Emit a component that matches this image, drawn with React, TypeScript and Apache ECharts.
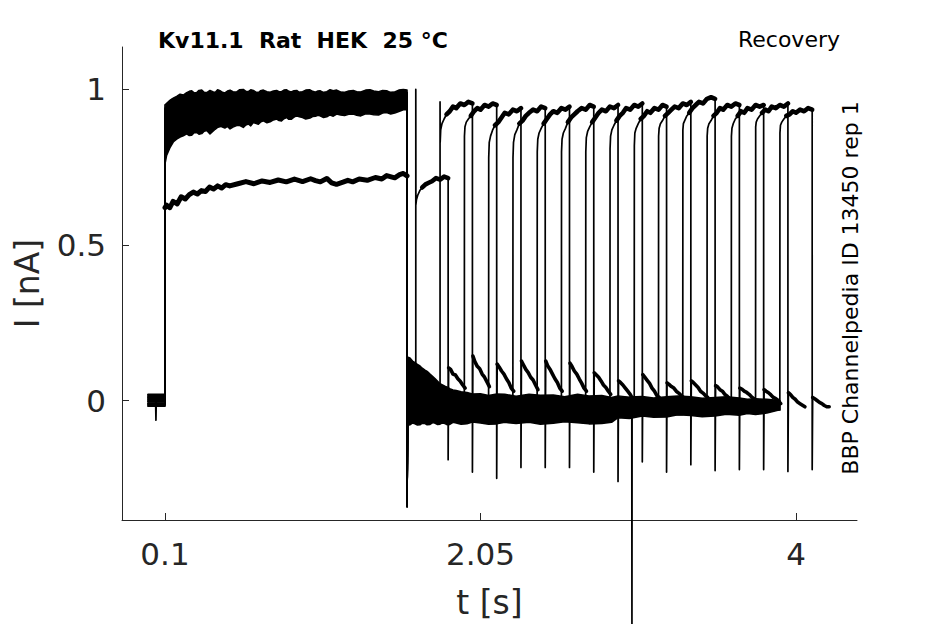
import { useEffect, useRef } from "react";
import * as echarts from "echarts";

// ---------- axes ----------
const X_TICKS = [0.1, 2.05, 4];
const Y_TICKS = [0, 0.5, 1];
const X_MIN = -0.1658;
const X_MAX = 4.377;
const Y_MIN = -0.384;
const Y_MAX = 1.1365;

// ---------- texts ----------
const TITLE = "Kv11.1  Rat  HEK  25 °C";
const PROTOCOL = "Recovery";
const SIDE_NOTE = "BBP Channelpedia ID 13450 rep 1";
const X_NAME = "t [s]";
const Y_NAME = "I [nA]";

// ---------- protocol timing (s) ----------
const START_T = -0.005;
const STEP_T = 0.1;
const P1_END_T = 1.596;
const END_SPIKE = -0.34;
const RISE_T = [1.65, 1.8, 1.95, 2.1, 2.25, 2.4, 2.55, 2.7, 2.85, 3.0, 3.15, 3.3, 3.45, 3.6, 3.75, 3.9];
const P2_LEN = 0.2;

// ---------- holding level before the first step ----------
const PRE = [0.005, -0.012, 0.015, -0.004, 0.02, -0.018, 0.008, -0.008, 0.012, 0.0, -0.015, 0.018, -0.002, 0.01, -0.01, 0.004];
const DIP_TRACE = 3;
const DIP_T = 0.044;
const DIP_V = -0.063;

// ---------- first pulse ----------
const T0_P1_T = [0.1, 0.11, 0.13, 0.15, 0.175, 0.2, 0.225, 0.25, 0.275, 0.3, 0.325, 0.35, 0.375, 0.4, 0.425, 0.45, 0.475, 0.5, 0.55, 0.6, 0.65, 0.7, 0.75, 0.8, 0.85, 0.9, 0.95, 1.0, 1.03, 1.06, 1.1, 1.13, 1.16, 1.2, 1.23, 1.26, 1.3, 1.35, 1.4, 1.44, 1.47, 1.52, 1.55, 1.573, 1.596];
const T0_P1_V = [0.62, 0.628, 0.62, 0.64, 0.632, 0.655, 0.648, 0.662, 0.67, 0.664, 0.675, 0.672, 0.686, 0.68, 0.69, 0.683, 0.694, 0.69, 0.697, 0.704, 0.697, 0.706, 0.701, 0.709, 0.703, 0.712, 0.704, 0.713, 0.707, 0.703, 0.714, 0.7, 0.695, 0.702, 0.708, 0.703, 0.712, 0.708, 0.717, 0.712, 0.723, 0.716, 0.726, 0.73, 0.722];
const P1_T = [0.1, 0.15, 0.3, 0.8, 1.596];
const P1_V = [
  [0.8, 0.85, 0.87, 0.91, 0.94],
  [0.88, 0.91, 0.93, 0.96, 0.97],
  [0.82, 0.86, 0.89, 0.93, 0.95],
  [0.92, 0.945, 0.96, 0.98, 0.98],
  [0.85, 0.88, 0.91, 0.94, 0.96],
  [0.9, 0.93, 0.95, 0.97, 0.98],
  [0.79, 0.845, 0.87, 0.91, 0.94],
  [0.94, 0.96, 0.97, 0.985, 0.99],
  [0.84, 0.875, 0.9, 0.935, 0.955],
  [0.87, 0.9, 0.92, 0.95, 0.965],
  [0.95, 0.97, 0.98, 0.99, 0.99],
  [0.81, 0.855, 0.88, 0.92, 0.945],
  [0.89, 0.92, 0.94, 0.96, 0.975],
  [0.83, 0.865, 0.9, 0.94, 0.95],
  [0.91, 0.94, 0.955, 0.975, 0.985],
];
// envelope of the overlapping first-pulse traces
const P1_BAND_T = [0.1, 0.11, 0.13, 0.151, 0.172, 0.193, 0.213, 0.234, 0.25, 0.265, 0.28, 0.296, 0.31, 0.327, 0.342, 0.358, 0.378, 0.395, 0.41, 0.425, 0.44, 0.455, 0.47, 0.486, 0.502, 0.52, 0.543, 0.56, 0.584, 0.6, 0.615, 0.63, 0.646, 0.66, 0.677, 0.69, 0.708, 0.73, 0.75, 0.77, 0.79, 0.805, 0.82, 0.835, 0.852, 0.865, 0.88, 0.897, 0.914, 0.93, 0.95, 0.97, 0.996, 1.012, 1.03, 1.045, 1.058, 1.08, 1.1, 1.12, 1.14, 1.161, 1.185, 1.21, 1.235, 1.264, 1.285, 1.31, 1.34, 1.367, 1.39, 1.42, 1.445, 1.47, 1.495, 1.52, 1.545, 1.573, 1.596];
const P1_BAND_LO = [0.76, 0.788, 0.812, 0.831, 0.84, 0.847, 0.851, 0.857, 0.852, 0.853, 0.861, 0.862, 0.856, 0.858, 0.866, 0.868, 0.857, 0.865, 0.872, 0.878, 0.884, 0.879, 0.876, 0.881, 0.873, 0.879, 0.884, 0.885, 0.878, 0.886, 0.889, 0.883, 0.894, 0.891, 0.888, 0.895, 0.899, 0.893, 0.896, 0.902, 0.905, 0.9, 0.899, 0.906, 0.91, 0.904, 0.904, 0.911, 0.915, 0.912, 0.91, 0.905, 0.908, 0.913, 0.914, 0.917, 0.915, 0.91, 0.912, 0.918, 0.914, 0.921, 0.918, 0.916, 0.92, 0.921, 0.917, 0.915, 0.922, 0.921, 0.919, 0.918, 0.924, 0.926, 0.921, 0.924, 0.929, 0.935, 0.935];
const P1_BAND_HI = [0.93, 0.955, 0.965, 0.972, 0.978, 0.985, 0.982, 0.99, 0.994, 0.996, 0.989, 0.99, 0.997, 0.998, 0.991, 0.99, 0.997, 0.993, 0.99, 0.999, 0.996, 0.991, 0.989, 0.995, 0.998, 0.993, 0.992, 0.999, 1.0, 0.994, 0.993, 0.999, 0.997, 0.992, 0.99, 0.996, 0.998, 0.993, 0.991, 0.995, 0.997, 0.993, 0.993, 0.998, 0.999, 0.994, 0.992, 0.996, 0.997, 0.991, 0.993, 0.998, 0.999, 0.994, 0.991, 0.995, 0.996, 0.99, 0.993, 0.999, 0.996, 0.998, 0.992, 0.99, 0.995, 0.997, 0.993, 0.992, 0.998, 0.999, 0.995, 0.993, 0.997, 0.996, 0.99, 0.992, 0.998, 1.0, 0.998];

// ---------- inter-pulse (tail + baseline) ----------
const TAIL_T = [1.6, 1.64, 1.7, 1.78];
const TAIL_V = [0.13, 0.1, 0.07, 0.04];
const BASE_FROM_T = 1.86;
const BASE = [0.08, -0.05, -0.03, -0.065, -0.02, -0.045, -0.06, -0.035, -0.055, -0.04, -0.025, -0.045, -0.035, -0.04, -0.02, -0.03];
const BASE_BAND_T = [1.597, 1.614, 1.63, 1.645, 1.66, 1.676, 1.69, 1.707, 1.72, 1.738, 1.755, 1.77, 1.785, 1.8, 1.815, 1.83, 1.845, 1.86, 1.88, 1.9, 1.93, 1.966, 2.0, 2.05, 2.1, 2.15, 2.2, 2.27, 2.35, 2.42, 2.5, 2.57, 2.65, 2.72, 2.8, 2.86, 2.9, 2.97, 3.05, 3.12, 3.2, 3.27, 3.35, 3.42, 3.5, 3.57, 3.65, 3.7, 3.75, 3.82, 3.9];
const BASE_BAND_HI = [0.14, 0.137, 0.127, 0.122, 0.116, 0.111, 0.104, 0.098, 0.094, 0.085, 0.077, 0.07, 0.062, 0.054, 0.05, 0.046, 0.043, 0.038, 0.034, 0.032, 0.028, 0.026, 0.021, 0.022, 0.016, 0.021, 0.02, 0.014, 0.02, 0.017, 0.018, 0.012, 0.02, 0.015, 0.016, 0.01, 0.015, 0.011, 0.013, 0.008, 0.012, 0.015, 0.012, 0.007, 0.01, 0.012, 0.008, 0.004, 0.006, 0.004, 0.0];
const BASE_BAND_LO = [-0.08, -0.078, -0.072, -0.075, -0.079, -0.078, -0.073, -0.074, -0.078, -0.077, -0.071, -0.073, -0.077, -0.076, -0.072, -0.074, -0.078, -0.077, -0.07, -0.072, -0.076, -0.075, -0.069, -0.072, -0.076, -0.075, -0.07, -0.074, -0.07, -0.076, -0.073, -0.068, -0.071, -0.075, -0.074, -0.07, -0.055, -0.058, -0.05, -0.054, -0.053, -0.046, -0.048, -0.052, -0.05, -0.044, -0.047, -0.042, -0.045, -0.04, -0.03];
const ART_TRACE = 9;
const ART_T = 2.986;
const ART_V = -0.76;

// ---------- second pulse ----------
const OVER: (number | null)[] = [1.0, 0.96, null, null, null, null, null, null, null, null, null, null, null, null, null, null];
const P2_OFF = [0, 0.004, 0.012, 0.025, 0.04, 0.06, 0.08, 0.1, 0.125, 0.15, 0.175, 0.2];
const P2_V = [
  [0.63, 0.645, 0.66, 0.675, 0.685, 0.695, 0.7, 0.705, 0.715, 0.71, 0.72, 0.715],
  [0.83, 0.87, 0.89, 0.905, 0.92, 0.93, 0.945, 0.94, 0.955, 0.95, 0.96, 0.955],
  [0.85, 0.88, 0.895, 0.905, 0.915, 0.93, 0.94, 0.935, 0.95, 0.945, 0.955, 0.95],
  [0.78, 0.83, 0.85, 0.87, 0.885, 0.895, 0.91, 0.925, 0.92, 0.935, 0.93, 0.94],
  [0.78, 0.83, 0.855, 0.87, 0.89, 0.9, 0.915, 0.925, 0.935, 0.93, 0.945, 0.94],
  [0.8, 0.84, 0.86, 0.875, 0.89, 0.905, 0.92, 0.93, 0.925, 0.94, 0.935, 0.945],
  [0.8, 0.84, 0.86, 0.875, 0.895, 0.91, 0.92, 0.93, 0.94, 0.935, 0.95, 0.945],
  [0.8, 0.845, 0.865, 0.88, 0.895, 0.91, 0.925, 0.935, 0.93, 0.945, 0.94, 0.95],
  [0.81, 0.85, 0.87, 0.885, 0.9, 0.915, 0.925, 0.94, 0.935, 0.95, 0.945, 0.955],
  [0.82, 0.86, 0.875, 0.89, 0.905, 0.915, 0.93, 0.925, 0.94, 0.935, 0.95, 0.945],
  [0.85, 0.875, 0.89, 0.9, 0.915, 0.925, 0.935, 0.945, 0.94, 0.955, 0.95, 0.96],
  [0.87, 0.89, 0.9, 0.915, 0.925, 0.94, 0.95, 0.96, 0.955, 0.97, 0.975, 0.97],
  [0.85, 0.875, 0.89, 0.9, 0.915, 0.925, 0.94, 0.935, 0.95, 0.945, 0.955, 0.95],
  [0.85, 0.875, 0.89, 0.905, 0.915, 0.93, 0.925, 0.94, 0.935, 0.95, 0.945, 0.95],
  [0.88, 0.895, 0.905, 0.915, 0.925, 0.935, 0.93, 0.945, 0.94, 0.95, 0.945, 0.955],
  [0.86, 0.885, 0.895, 0.905, 0.915, 0.92, 0.93, 0.925, 0.935, 0.93, 0.94, 0.935],
];
const SPIKE = [-0.19, -0.23, -0.25, -0.215, -0.215, -0.215, -0.23, -0.26, -0.197, -0.23, -0.206, -0.225, -0.222, -0.222, -0.228, -0.222];
const BUMP_OFF = [0.003, 0.015, 0.03, 0.045, 0.06, 0.075, 0.09, 0.105];
const BUMP_V = [
  [0.105, 0.1, 0.085, 0.082, 0.07, 0.062, 0.05, 0.04],
  [0.143, 0.125, 0.11, 0.102, 0.085, 0.075, 0.06, 0.045],
  [0.117, 0.108, 0.095, 0.085, 0.07, 0.058, 0.04, 0.03],
  [0.127, 0.115, 0.1, 0.09, 0.075, 0.066, 0.05, 0.035],
  [0.127, 0.112, 0.1, 0.085, 0.07, 0.058, 0.04, 0.03],
  [0.12, 0.11, 0.095, 0.085, 0.07, 0.056, 0.04, 0.03],
  [0.089, 0.083, 0.075, 0.063, 0.05, 0.042, 0.03, 0.02],
  [0.063, 0.058, 0.05, 0.04, 0.03, 0.02, 0.006, 0.0],
  [0.083, 0.075, 0.065, 0.055, 0.04, 0.03, 0.016, 0.01],
  [0.057, 0.052, 0.045, 0.04, 0.03, 0.024, 0.016, 0.01],
  [0.063, 0.058, 0.05, 0.042, 0.03, 0.024, 0.016, 0.01],
  [0.048, 0.044, 0.035, 0.03, 0.02, 0.014, 0.006, 0.0],
  [0.04, 0.037, 0.03, 0.026, 0.02, 0.012, 0.006, 0.0],
  [0.035, 0.03, 0.025, 0.018, 0.01, 0.006, 0.0, -0.01],
  [0.025, 0.02, 0.01, 0.004, -0.005, -0.01, -0.015, -0.02],
  [0.01, 0.006, 0.0, -0.006, -0.01, -0.016, -0.02, -0.02],
];

const FONT = "DejaVu Sans";
const INK = "#000000";
const AXIS_INK = "#262626";

function traceMain(k: number): number[][] {
  const pts: number[][] = [];
  pts.push([START_T, PRE[k]]);
  if (k === DIP_TRACE) {
    pts.push([DIP_T - 0.002, PRE[k]], [DIP_T, DIP_V], [DIP_T + 0.002, PRE[k]]);
  }
  pts.push([STEP_T - 0.0005, PRE[k]]);
  if (k === 0) T0_P1_T.forEach((t, i) => pts.push([t, T0_P1_V[i]]));
  else P1_T.forEach((t, i) => pts.push([t, P1_V[k - 1][i]]));
  pts.push([P1_END_T, END_SPIKE]);
  const r = RISE_T[k];
  TAIL_T.forEach((t, i) => {
    if (t < r) pts.push([t, TAIL_V[i]]);
  });
  if (BASE_FROM_T < r) pts.push([BASE_FROM_T, BASE[k]]);
  if (k === ART_TRACE) {
    pts.push([ART_T - 0.001, BASE[k]], [ART_T, ART_V], [ART_T + 0.001, BASE[k]]);
  }
  pts.push([r, BASE[k]]);
  const ov = OVER[k];
  if (ov !== null) pts.push([r, ov]);
  P2_OFF.forEach((o, i) => pts.push([r + o + (i === 0 ? 0.0008 : 0), P2_V[k][i]]));
  const d = r + P2_LEN;
  pts.push([d, SPIKE[k]]);
  BUMP_OFF.forEach((o, i) => pts.push([d + o, BUMP_V[k][i]]));
  return pts;
}

function plateau(k: number): number[][] {
  const r = RISE_T[k];
  return P2_OFF.map((o, i) => [r + o, P2_V[k][i]]).filter((_, i) => i >= 4);
}

function bump(k: number): number[][] {
  const d = RISE_T[k] + P2_LEN;
  return BUMP_OFF.map((o, i) => [d + o, BUMP_V[k][i]]);
}

function lineSeries(data: number[][], width: number, clip = true) {
  return {
    type: "line",
    data,
    showSymbol: false,
    symbol: "none",
    silent: true,
    clip,
    z: 3,
    lineStyle: { color: INK, width, join: "round", cap: "round" },
  };
}

function bandSeries(T: number[], lo: number[], hi: number[]) {
  return {
    type: "custom",
    silent: true,
    z: 2,
    data: [[T[0], lo[0]]],
    renderItem: (_params: any, api: any) => {
      const pts: number[][] = [];
      T.forEach((t, i) => pts.push(api.coord([t, hi[i]])));
      for (let i = T.length - 1; i >= 0; i--) pts.push(api.coord([T[i], lo[i]]));
      return { type: "polygon", shape: { points: pts }, style: { fill: INK, stroke: INK, lineWidth: 1.5, lineJoin: "round" } };
    },
  };
}

export default function App() {
  const ref = useRef<HTMLDivElement>(null);
  useEffect(() => {
    if (!ref.current) return;
    const chart = echarts.init(ref.current, undefined, { renderer: "svg" });
    const series: any[] = [];
    series.push(bandSeries(P1_BAND_T, P1_BAND_LO, P1_BAND_HI));
    series.push(bandSeries(BASE_BAND_T, BASE_BAND_LO, BASE_BAND_HI));
    RISE_T.forEach((_, k) => {
      series.push(lineSeries(traceMain(k), 1.7, k !== ART_TRACE));
      series.push(lineSeries(plateau(k), 4.6));
      series.push(lineSeries(bump(k), 3.6));
    });
    series.push(lineSeries(T0_P1_T.map((t, i) => [t, T0_P1_V[i]]), 5));

    chart.setOption({
      animation: false,
      grid: { left: 122, top: 47, right: 88, bottom: 98 },
      xAxis: {
        type: "value",
        min: X_MIN,
        max: X_MAX,
        splitLine: { show: false },
        axisLine: { show: true, onZero: false, lineStyle: { color: AXIS_INK, width: 1 } },
        axisTick: { show: true, inside: true, length: 7, customValues: X_TICKS, lineStyle: { color: AXIS_INK } },
        axisLabel: {
          customValues: X_TICKS,
          formatter: (v: number) => String(v),
          fontSize: 31,
          fontFamily: FONT,
          color: AXIS_INK,
          margin: 18,
        },
        name: X_NAME,
        nameLocation: "middle",
        nameGap: 66,
        nameTextStyle: { fontSize: 33, fontFamily: FONT, color: AXIS_INK },
      },
      yAxis: {
        type: "value",
        min: Y_MIN,
        max: Y_MAX,
        splitLine: { show: false },
        axisLine: { show: true, onZero: false, lineStyle: { color: AXIS_INK, width: 1 } },
        axisTick: { show: true, inside: true, length: 7, customValues: Y_TICKS, lineStyle: { color: AXIS_INK } },
        axisLabel: {
          customValues: Y_TICKS,
          formatter: (v: number) => String(v),
          fontSize: 31,
          fontFamily: FONT,
          color: AXIS_INK,
          margin: 16,
        },
        name: Y_NAME,
        nameLocation: "middle",
        nameGap: 78,
        nameTextStyle: { fontSize: 33, fontFamily: FONT, color: AXIS_INK },
      },
      graphic: [
        {
          type: "text",
          x: 158,
          y: 40,
          style: { text: TITLE, fontFamily: FONT, fontWeight: "bold", fontSize: 22, fill: INK, align: "left", verticalAlign: "middle" },
        },
        {
          type: "text",
          x: 840,
          y: 39,
          style: { text: PROTOCOL, fontFamily: FONT, fontSize: 22, fill: INK, align: "right", verticalAlign: "middle" },
        },
        {
          type: "text",
          x: 850,
          y: 288,
          rotation: Math.PI / 2,
          style: { text: SIDE_NOTE, fontFamily: FONT, fontSize: 22, fill: INK, align: "center", verticalAlign: "middle" },
        },
      ],
      series,
    });
    return () => chart.dispose();
  }, []);
  return <div ref={ref} style={{ position: "absolute", left: 0, top: 0, width: 945, height: 624 }} />;
}
